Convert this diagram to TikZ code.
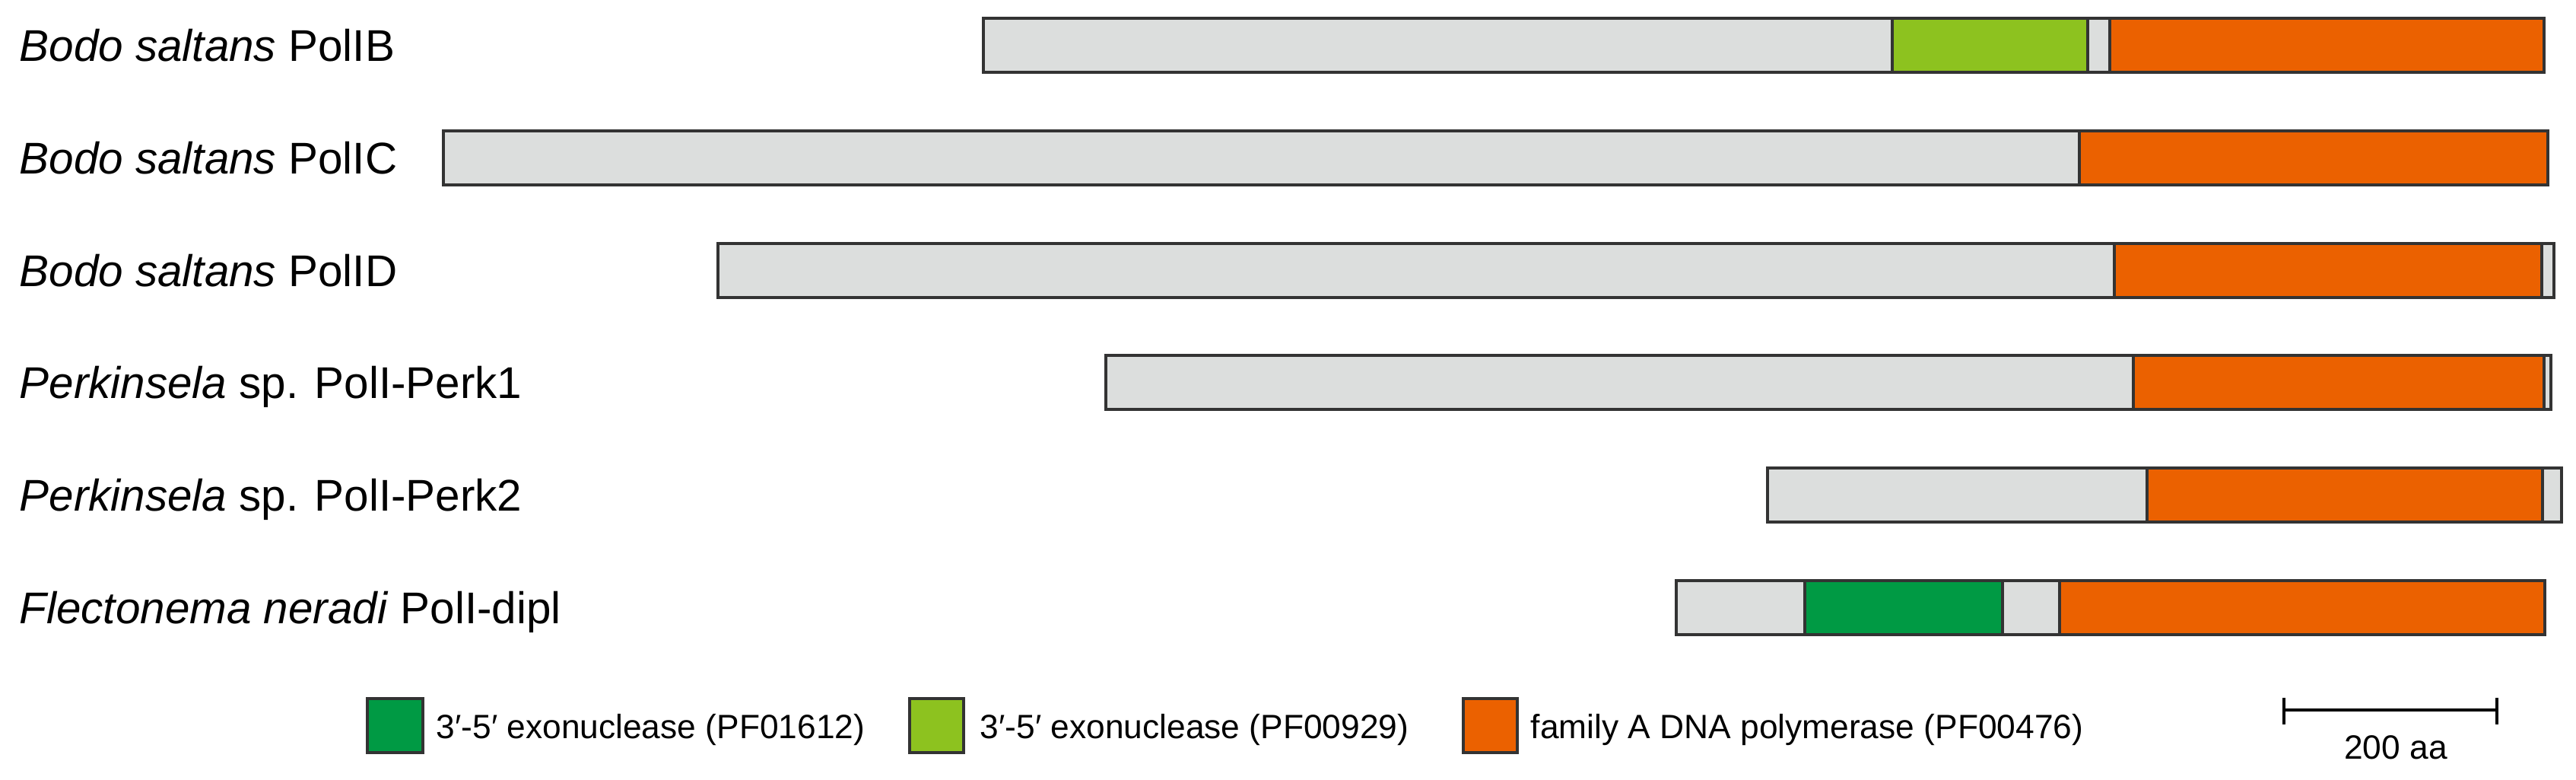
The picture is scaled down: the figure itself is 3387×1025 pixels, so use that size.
\documentclass[tikz,border=0pt]{standalone}
\usepackage{fontspec}
\setmainfont{Liberation Sans}
\definecolor{grau}{HTML}{DCDEDD}
\definecolor{hellgruen}{HTML}{8DC21F}
\definecolor{gruen}{HTML}{009A44}
\definecolor{polA}{HTML}{EB6100}
\begin{document}
\begin{tikzpicture}[x=0.01cm, y=-0.01cm,
    seg/.style={draw=black!80, line width=1pt},
    lab/.style={anchor=base west, inner sep=0pt, font=\fontsize{16.6}{19}\selectfont},
    leg/.style={anchor=base west, inner sep=0pt, font=\fontsize{12.6}{15}\selectfont}]
    \useasboundingbox (0,0) rectangle (3387,1025);

    % Namen
    \foreach \i/\name/\txt in {
        1/polIB/{\textit{Bodo saltans} PolIB},
        2/polIC/{\textit{Bodo saltans} PolIC},
        3/polID/{\textit{Bodo saltans} PolID},
        4/perkA/{\textit{Perkinsela} sp. PolI-Perk1},
        5/perkB/{\textit{Perkinsela} sp. PolI-Perk2},
        6/dipl/{\textit{Flectonema neradi} PolI-dipl}}
    \node[lab] (\name) at (25, {24+147.8*(\i-1)+56.5}) {\txt};

    % Balken
    \foreach \a/\b/\c in {1293/2488/grau, 2488/2745/hellgruen, 2745/2774/grau, 2774/3345/polA}
    \draw[seg, fill=\c] (\a,24) rectangle (\b,95);
    \foreach \a/\b/\c in {583/2734/grau, 2734/3350/polA}
    \draw[seg, fill=\c] (\a,172) rectangle (\b,243);
    \foreach \a/\b/\c in {944/2780/grau, 2780/3342/polA, 3342/3358/grau}
    \draw[seg, fill=\c] (\a,320) rectangle (\b,391);
    \foreach \a/\b/\c in {1454/2805/grau, 2805/3345/polA, 3345/3354/grau}
    \draw[seg, fill=\c] (\a,467) rectangle (\b,538);
    \foreach \a/\b/\c in {2324/2823/grau, 2823/3343/polA, 3343/3368/grau}
    \draw[seg, fill=\c] (\a,615) rectangle (\b,686);
    \foreach \a/\b/\c in {2204/2373/grau, 2373/2633/gruen, 2633/2708/grau, 2708/3346/polA}
    \draw[seg, fill=\c] (\a,763) rectangle (\b,834);

    % Legende
    \draw[seg, fill=gruen] (483,918) rectangle (556,989);
    \node[leg] (legA) at (573,970) {3′-5′ exonuclease (PF01612)};
    \draw[seg, fill=hellgruen] (1196,918) rectangle (1267,989);
    \node[leg] (legB) at (1288,970) {3′-5′ exonuclease (PF00929)};
    \draw[seg, fill=polA] (1924,918) rectangle (1995,989);
    \node[leg] (legC) at (2012,970) {family A DNA polymerase (PF00476)};

    % Massstab
    \coordinate (sa) at (3003,933);
    \coordinate (sb) at (3283,933);
    \draw[line width=1pt] (sa) -- (sb);
    \draw[line width=1pt] (sa) ++(0,-16) -- ++(0,35);
    \draw[line width=1pt] (sb) ++(0,-16) -- ++(0,35);
    \node[leg, anchor=base] (skala) at (3150,998) {200 aa};
\end{tikzpicture}
\end{document}
